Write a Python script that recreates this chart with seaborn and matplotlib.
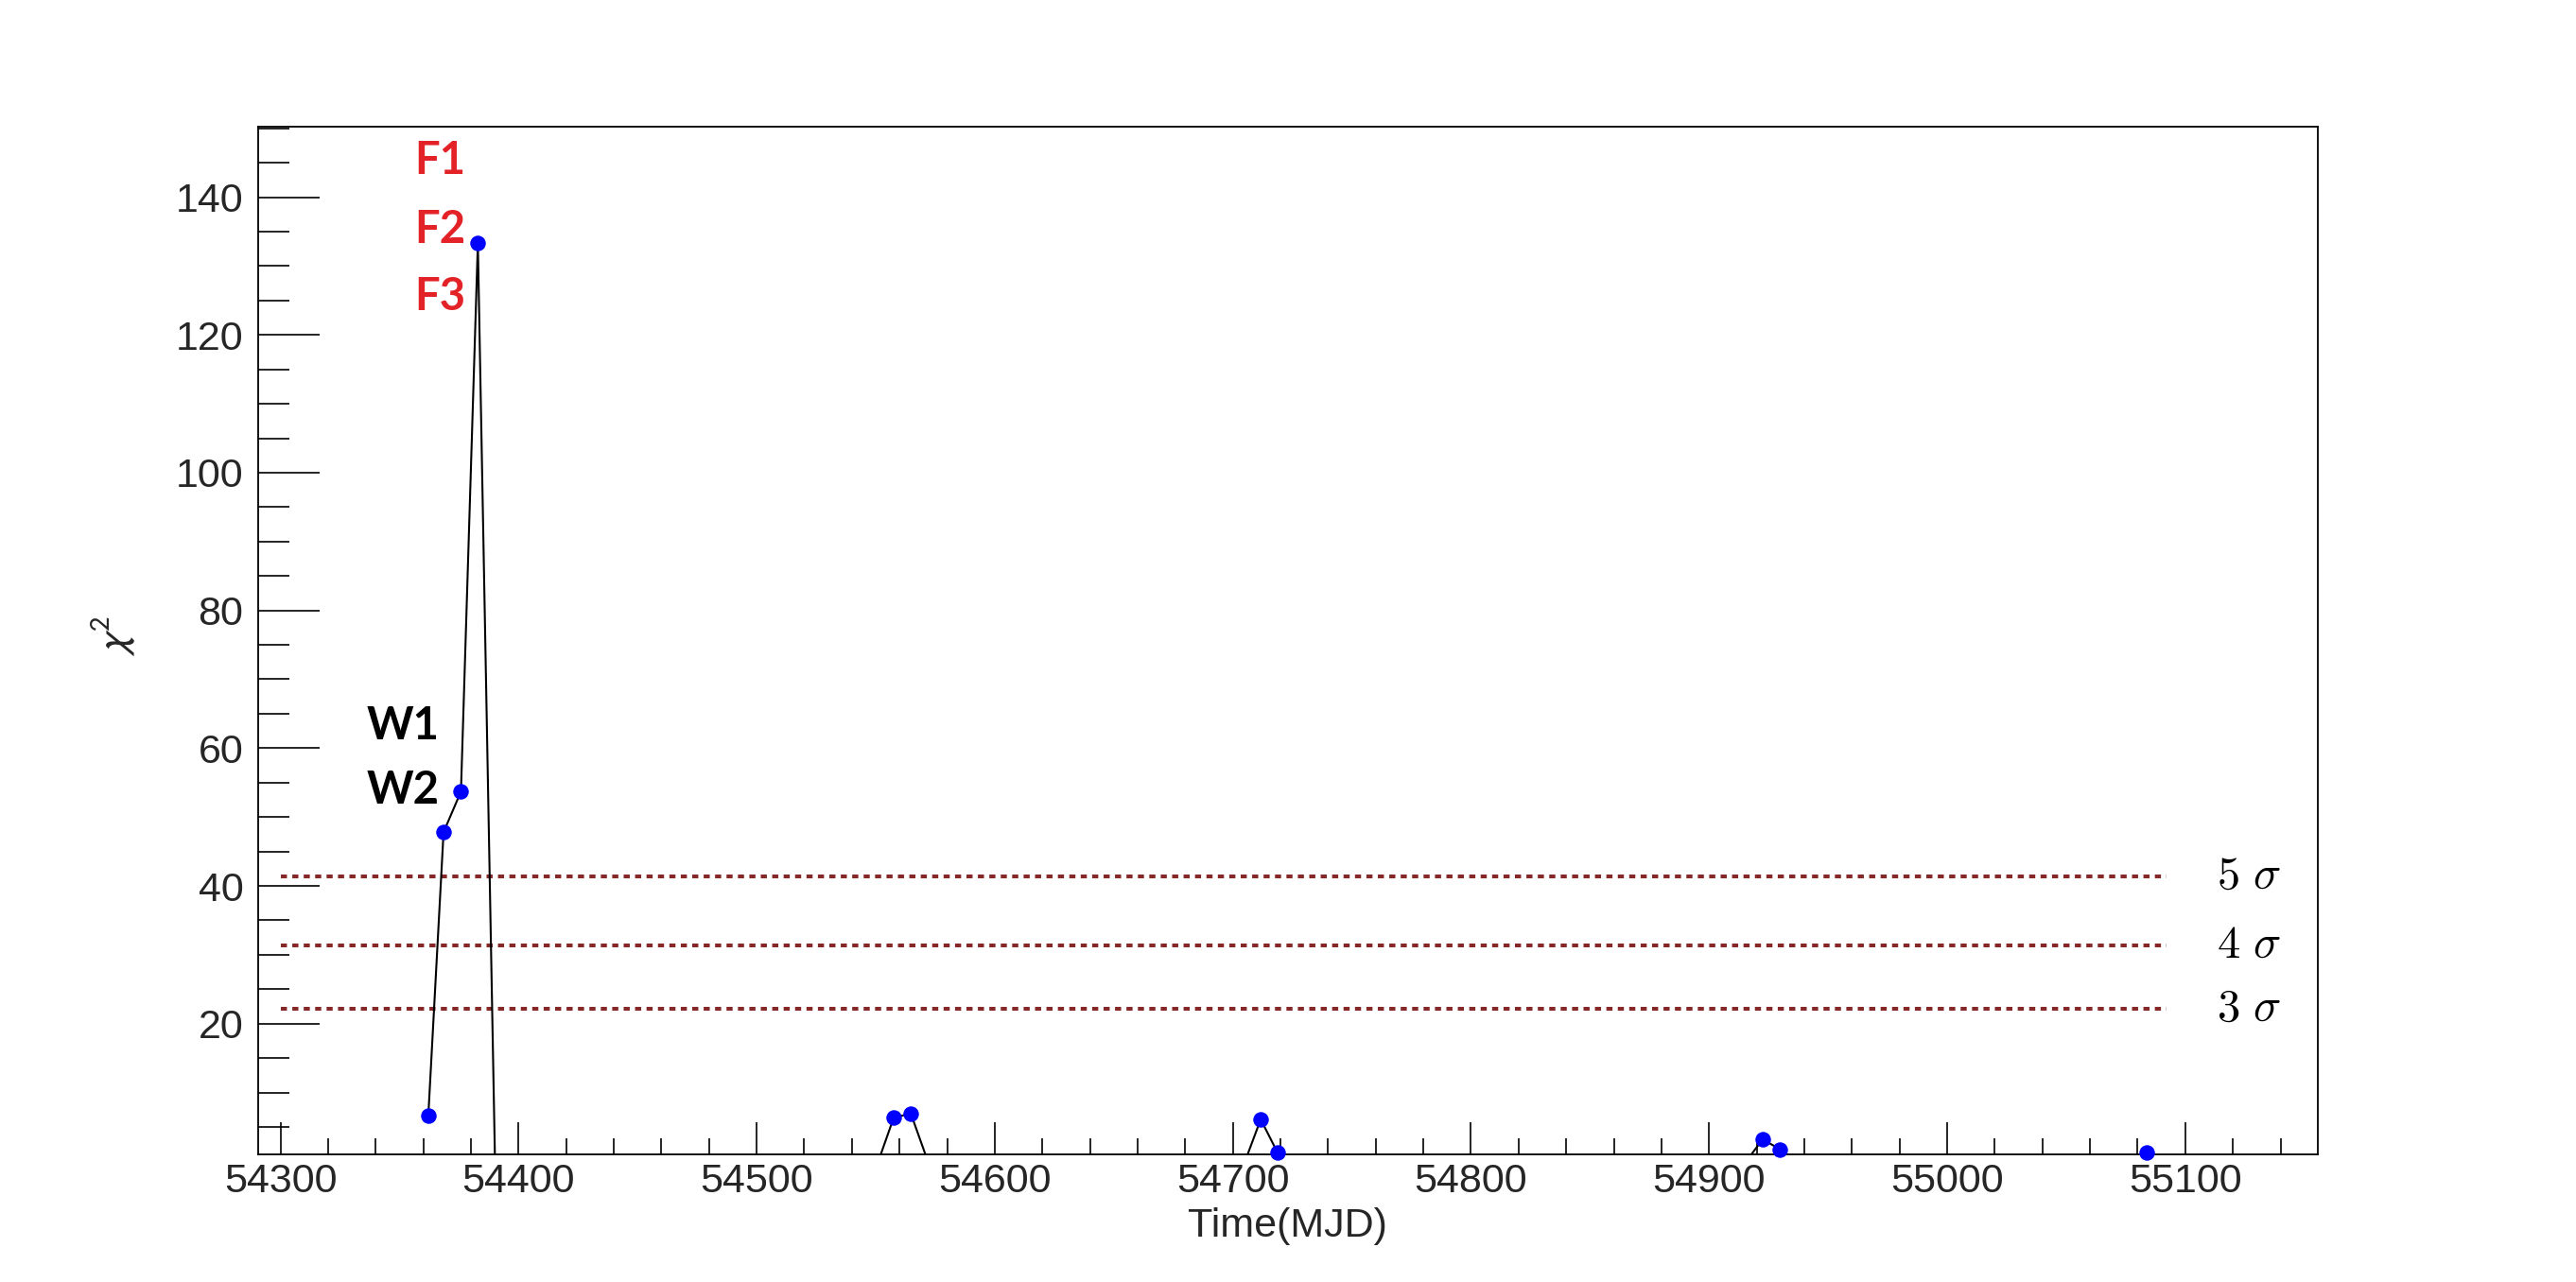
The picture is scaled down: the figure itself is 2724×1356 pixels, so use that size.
import numpy as np
import pandas as pd
import matplotlib
matplotlib.use("Agg")
import matplotlib.pyplot as plt
from matplotlib.ticker import MultipleLocator, ScalarFormatter
import seaborn as sns

# ---------------- data ----------------
mjd = [54362.1, 54368.5, 54375.8, 54382.9, 54390.1,
       54551.1, 54557.6, 54564.8, 54571.9,
       54705.1, 54711.7, 54718.8, 54725.9,
       54915.6, 54922.5, 54929.8, 54936.9,
       55076.6, 55083.6, 55090.6]
chi2 = [6.7, 47.8, 53.7, 133.3, 0.0,
        0.0, 6.4, 6.9, 0.0,
        0.0, 6.1, 1.25, 0.0,
        0.0, 3.2, 1.75, 0.0,
        0.0, 1.25, 0.0]

sigma_levels = [22.1, 31.3, 41.4]
sigma_names = ["3", "4", "5"]
sigma_x_start = 54300
sigma_x_end = 55092
sigma_label_x = 55113

flare_labels = ["F1", "F2", "F3"]
flare_label_y = [143.4, 133.4, 123.6]
flare_label_x = 54356.1
week_labels = ["W1", "W2"]
week_label_y = [61.3, 51.9]
week_label_x = 54336.2

xlim = (54290.5, 55155.6)
ylim = (1.06, 150.2)

# ---------------- style ----------------
sns.set_style("white")
plt.rcParams['font.family'] = ['Liberation Sans', 'DejaVu Sans']

fig = plt.figure(figsize=(27.24, 13.56), dpi=100)
ax = fig.add_axes([0.1001, 0.0998, 0.7996, 0.8012])

df = pd.DataFrame({"mjd": mjd, "chi2": chi2})

sns.lineplot(data=df, x="mjd", y="chi2", sort=False, estimator=None,
             color="black", lw=1.5, ax=ax, zorder=3)

vis = df[df["chi2"] > ylim[0]]
sns.scatterplot(data=vis, x="mjd", y="chi2", color="#0000FF",
                edgecolor="#0000FF", s=120, ax=ax, zorder=6, clip_on=False,
                legend=False)

for lvl, nm in zip(sigma_levels, sigma_names):
    ax.plot([sigma_x_start, sigma_x_end], [lvl, lvl], color="#862828",
            lw=2.9, linestyle=(0, (1.6, 1.4)), zorder=2,
            solid_capstyle="butt", dash_capstyle="butt")
    ax.text(sigma_label_x, lvl, r"$%s\ \sigma$" % nm, fontsize=35,
            ha="left", va="center", math_fontfamily="cm", color="black")

for lab, yy in zip(flare_labels, flare_label_y):
    ax.text(flare_label_x, yy, lab, fontsize=34, fontweight="bold",
            family=["Lato", "DejaVu Sans"], color="#E32227",
            ha="left", va="baseline")
for lab, yy in zip(week_labels, week_label_y):
    ax.text(week_label_x, yy, lab, fontsize=34, fontweight="bold",
            family=["Lato", "DejaVu Sans"], color="black",
            ha="left", va="baseline")

ax.set_xlim(*xlim)
ax.set_ylim(*ylim)

ax.xaxis.set_major_locator(MultipleLocator(100))
ax.xaxis.set_minor_locator(MultipleLocator(20))
ax.yaxis.set_major_locator(MultipleLocator(20))
ax.yaxis.set_minor_locator(MultipleLocator(5))
fmt = ScalarFormatter(useOffset=False)
fmt.set_scientific(False)
ax.xaxis.set_major_formatter(fmt)

ax.tick_params(axis="x", which="major", direction="in", length=24.5, width=1.2,
               bottom=True, top=False, labelsize=31, pad=7, color="black")
ax.tick_params(axis="x", which="minor", direction="in", length=12.2, width=1.2,
               bottom=True, top=False, color="black")
ax.tick_params(axis="y", which="major", direction="in", length=47, width=1.2,
               left=True, right=False, labelsize=31, pad=11, color="black")
ax.tick_params(axis="y", which="minor", direction="in", length=23.8, width=1.2,
               left=True, right=False, color="black")

for sp in ax.spines.values():
    sp.set_visible(True)
    sp.set_color("black")
    sp.set_linewidth(1.3)

ax.set_xlabel("Time(MJD)", fontsize=31, va="center")
ax.xaxis.set_label_coords(0.5, -0.070)
ax.set_ylabel(r"$\chi^{2}$", fontsize=32, va="center", ha="center",
              math_fontfamily="stixsans")
ax.yaxis.set_label_coords(-0.070, 0.505)

fig.savefig("out.png", dpi=100, facecolor="white")
